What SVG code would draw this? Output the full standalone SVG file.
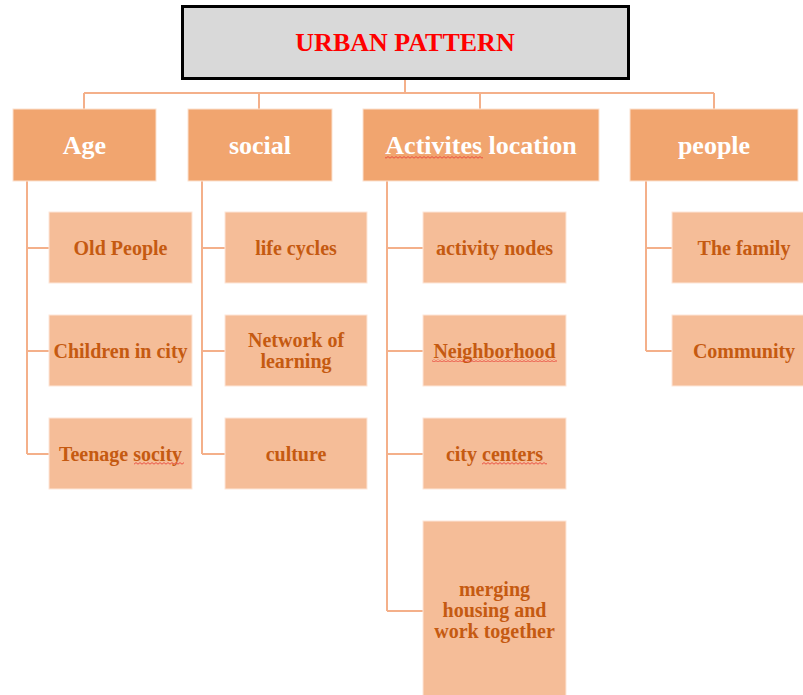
<svg xmlns="http://www.w3.org/2000/svg" width="803" height="695" viewBox="0 0 803 695">
  <style>
    .root { fill: #d9d9d9; stroke: #000; stroke-width: 3; }
    .root-text { font-family: "Liberation Serif", "Times New Roman", serif; font-weight: bold; font-size: 26px; fill: #ff0000; text-anchor: middle; }
    .cat { fill: #f1a56f; stroke: #fbe1cf; stroke-width: 1; }
    .cat-text { font-family: "Liberation Serif", "Times New Roman", serif; font-weight: bold; font-size: 26px; fill: #ffffff; text-anchor: middle; }
    .item { fill: #f5bd98; stroke: #fde6d8; stroke-width: 1; }
    .item-text { font-family: "Liberation Serif", "Times New Roman", serif; font-weight: bold; font-size: 20px; fill: #c55a11; text-anchor: middle; }
    .link { fill: none; stroke: #f4b08a; stroke-width: 2; }
    .squiggle { fill: url(#wave); }
  </style>
  <defs>
    <!-- red wavy spell-check underline -->
    <pattern id="wave" width="4" height="3" patternUnits="userSpaceOnUse">
      <path d="M0 0.6 L2 2.2 L4 0.6" fill="none" stroke="#e8443a" stroke-width="0.9"/>
    </pattern>
  </defs>

  <!-- connectors -->
  <g id="connectors" class="link">
    <path d="M405 79 V93 M84 93 H714 M84 93 V109 M259 93 V109 M480 93 V109 M714 93 V109"/>
    <path d="M27 181 V454 M27 248 H49 M27 351 H49 M27 454 H49"/>
    <path d="M202 181 V454 M202 248 H225 M202 351 H225 M202 454 H225"/>
    <path d="M387 181 V611 M387 248 H423 M387 351 H423 M387 454 H423 M387 611 H423"/>
    <path d="M646 181 V351 M646 248 H672 M646 351 H672"/>
  </g>

  <!-- root -->
  <g id="urban-pattern">
    <rect class="root" x="182.5" y="6.5" width="446" height="72"/>
    <text class="root-text" x="405" y="51">URBAN PATTERN</text>
  </g>

  <!-- categories -->
  <g id="age">
    <rect class="cat" x="13" y="109" width="143" height="72"/>
    <text class="cat-text" x="84.5" y="154">Age</text>
  </g>
  <g id="social">
    <rect class="cat" x="188" y="109" width="144" height="72"/>
    <text class="cat-text" x="260" y="154">social</text>
  </g>
  <g id="activities-location">
    <rect class="cat" x="363" y="109" width="236" height="72"/>
    <text class="cat-text" x="481" y="154">Activites location</text>
    <rect class="squiggle" x="385" y="156" width="98" height="3"/>
  </g>
  <g id="people">
    <rect class="cat" x="630" y="109" width="168" height="72"/>
    <text class="cat-text" x="714" y="154">people</text>
  </g>

  <!-- age items -->
  <g id="old-people">
    <rect class="item" x="49" y="212" width="143" height="71"/>
    <text class="item-text" x="120.5" y="255">Old People</text>
  </g>
  <g id="children-in-city">
    <rect class="item" x="49" y="315" width="143" height="71"/>
    <text class="item-text" x="120.5" y="358">Children in city</text>
  </g>
  <g id="teenage-socity">
    <rect class="item" x="49" y="418" width="143" height="71"/>
    <text class="item-text" x="120.5" y="461">Teenage socity</text>
    <rect class="squiggle" x="134" y="462" width="50" height="3"/>
  </g>

  <!-- social items -->
  <g id="life-cycles">
    <rect class="item" x="225" y="212" width="142" height="71"/>
    <text class="item-text" x="296" y="255">life cycles</text>
  </g>
  <g id="network-of-learning">
    <rect class="item" x="225" y="315" width="142" height="71"/>
    <text class="item-text" x="296" y="347">Network of</text>
    <text class="item-text" x="296" y="368">learning</text>
  </g>
  <g id="culture">
    <rect class="item" x="225" y="418" width="142" height="71"/>
    <text class="item-text" x="296" y="461">culture</text>
  </g>

  <!-- activity location items -->
  <g id="activity-nodes">
    <rect class="item" x="423" y="212" width="143" height="71"/>
    <text class="item-text" x="494.5" y="255">activity nodes</text>
  </g>
  <g id="neighborhood">
    <rect class="item" x="423" y="315" width="143" height="71"/>
    <text class="item-text" x="494.5" y="358">Neighborhood</text>
    <rect class="squiggle" x="432" y="359" width="125" height="3"/>
  </g>
  <g id="city-centers">
    <rect class="item" x="423" y="418" width="143" height="71"/>
    <text class="item-text" x="494.5" y="461">city centers</text>
    <rect class="squiggle" x="482" y="462" width="65" height="3"/>
  </g>
  <g id="merging-housing-and-work">
    <rect class="item" x="423" y="521" width="143" height="180"/>
    <text class="item-text" x="494.5" y="596">merging</text>
    <text class="item-text" x="494.5" y="617">housing and</text>
    <text class="item-text" x="494.5" y="638">work together</text>
  </g>

  <!-- people items -->
  <g id="the-family">
    <rect class="item" x="672" y="212" width="143" height="71"/>
    <text class="item-text" x="744" y="255">The family</text>
  </g>
  <g id="community">
    <rect class="item" x="672" y="315" width="143" height="71"/>
    <text class="item-text" x="744" y="358">Community</text>
  </g>
</svg>
